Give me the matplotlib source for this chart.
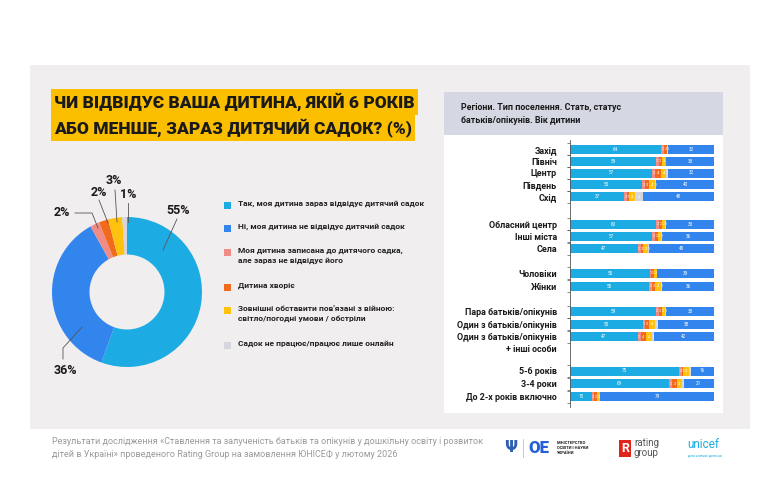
import numpy as np
import matplotlib.pyplot as plt
from matplotlib.patches import Rectangle

plt.rcParams['font.family'] = ['Roboto', 'DejaVu Sans']

# --- data -------------------------------------------------------------
answers = ["Так, моя дитина зараз відвідує дитячий садок",
           "Ні, моя дитина не відвідує дитячий садок",
           "Моя дитина записана до дитячого садка,\nале зараз не відвідує його",
           "Дитина хворіє",
           "Зовнішні обставити пов'язані з війною:\nсвітло/погодні умови / обстріли",
           "Садок не працює/працює лише онлайн"]
total_share = [55, 36, 2, 2, 3, 1]

rows = ["Захід", "Північ", "Центр", "Південь", "Схід",
        "Обласний центр", "Інші міста", "Села",
        "Чоловіки", "Жінки",
        "Пара батьків/опікунів", "Один з батьків/опікунів", "Один з батьків/опікунів",
        "5-6 років", "3-4 роки", "До 2-х років включно"]
yes_vals = [64, 59, 57, 50, 37, 60, 57, 47, 55, 55, 59, 50, 47, 75, 69, 15]
enrolled = [2, 2, 2, 2, 2, 2, 2, 2, 1, 2, 2, 1, 2, 2, 2, 2]
ill = [2, 2, 4, 3, 1, 2, 2, 2, 2, 2, 2, 3, 4, 1, 3, 2]
war = [0, 3, 4, 4, 4, 2, 2, 3, 2, 4, 2, 4, 4, 4, 4, 2]
closed = [1, 0, 1, 1, 6, 1, 1, 1, 0, 1, 1, 2, 1, 1, 1, 0]
no_vals = [32, 33, 32, 40, 48, 33, 36, 45, 39, 36, 33, 38, 42, 16, 21, 79]

title_lines = ["ЧИ ВІДВІДУЄ ВАША ДИТИНА, ЯКІЙ 6 РОКІВ",
               "АБО МЕНШЕ, ЗАРАЗ ДИТЯЧИЙ САДОК? (%)"]
panel_title = "Регіони. Тип поселення. Стать, статус\nбатьків/опікунів. Вік дитини"
footer = ("Результати дослідження «Ставлення та залученість батьків та опікунів у дошкільну освіту і розвиток\n"
          "дітей в Україні» проведеного Rating Group на замовлення ЮНІСЕФ у лютому 2026")

# --- style ------------------------------------------------------------
c_yes = "#1cabe2"
c_no = "#3385ee"
c_enr = "#f08c86"
c_ill = "#f26a1b"
c_war = "#ffc20e"
c_cls = "#d4d5dd"
seg_colors = [c_yes, c_no, c_enr, c_ill, c_war, c_cls]
W, H = 770, 495


def fx(x):
    return x / W


def fy(y):
    return 1 - y / H


fig = plt.figure(figsize=(7.7, 4.95), dpi=100)
fig.patch.set_facecolor("white")

# background layer
bg = fig.add_axes([0, 0, 1, 1], zorder=0)
bg.set_xlim(0, W)
bg.set_ylim(H, 0)
bg.axis("off")
bg.add_patch(Rectangle((30, 65), 720, 364, color="#f0eeee", lw=0))
bg.add_patch(Rectangle((444, 92), 279, 321, color="white", lw=0))
bg.add_patch(Rectangle((444, 92), 279, 43, color="#d5d8e3", lw=0))

# title with yellow highlight
for i, line in enumerate(title_lines):
    bg.text(54, 102 + i * 26, line, fontsize=12.5, fontweight="heavy", color="#1a1a1a",
            va="center", ha="left",
            bbox=dict(facecolor="#fcbf00", edgecolor="none", boxstyle="square,pad=0.2"))

bg.text(461, 114, panel_title, fontsize=6.4, fontweight="bold", color="#1a1a1a",
        va="center", ha="left", linespacing=1.55)

bg.text(52, 448, footer, fontsize=6.5, color="#9a9a9a", va="center", ha="left", linespacing=1.6)

# --- donut ------------------------------------------------------------
cx, cy, R = 127, 292, 75
dax = fig.add_axes([fx(cx - 80), fy(cy + 80), 160 / W, 160 / H], zorder=1)
dax.pie(total_share, colors=seg_colors, startangle=90, counterclock=False,
        wedgeprops=dict(width=0.5, edgecolor="none"))
dax.set_xlim(-80 / R, 80 / R)
dax.set_ylim(-80 / R, 80 / R)
dax.set_aspect("equal")
dax.axis("off")

# --- stacked bars -----------------------------------------------------
ypos = [149.3, 161.2, 173.0, 184.9, 196.7,
        224.0, 236.3, 248.5,
        273.3, 286.0,
        311.5, 324.0, 336.5,
        371.0, 383.7, 396.5]
bax = fig.add_axes([fx(570), fy(407), 144 / W, 267 / H], zorder=1)
bax.set_ylim(407, 140)
bax.set_xlim(0, 100)
bax.patch.set_alpha(0)

series = [yes_vals, enrolled, ill, war, closed, no_vals]
bar_colors = [c_yes, c_enr, c_ill, c_war, c_cls, c_no]
data = np.array(series, dtype=float)
totals = data.sum(axis=0)
widths = data / totals * 100
left = np.zeros(len(rows))
for k in range(len(series)):
    bax.barh(ypos, widths[k], left=left, height=9, color=bar_colors[k], edgecolor="none")
    for j, v in enumerate(series[k]):
        if v > 0:
            bax.text(left[j] + widths[k][j] / 2, ypos[j], str(v), ha="center", va="center",
                     fontsize=3.3 if v > 9 else 2.8, color="white")
    left += widths[k]

for s in ["top", "right", "bottom"]:
    bax.spines[s].set_visible(False)
bax.spines["left"].set_color("#555555")
bax.spines["left"].set_linewidth(0.6)
bax.set_xticks([])
bax.set_yticks(ypos, rows)
bax.tick_params(axis="y", length=0, pad=9.5, labelsize=6.4, labelcolor="#1a1a1a")
for t in bax.get_yticklabels():
    t.set_fontweight("bold")
bounds = sorted(set([round(y - 6, 1) for y in ypos] + [round(y + 6, 1) for y in ypos]))
bax.set_yticks(bounds, minor=True)
bax.tick_params(axis="y", which="minor", length=2, width=0.5, color="#555555")
bax.text(-13 * 100 / 144, ypos[12] + 12.5, "+ інші особи", ha="right", va="center",
         fontsize=6.4, fontweight="bold", color="#1a1a1a", clip_on=False)

# --- overlay: labels, leaders, legend, logos --------------------------
top = fig.add_axes([0, 0, 1, 1], zorder=2)
top.set_xlim(0, W)
top.set_ylim(H, 0)
top.axis("off")

pct_pos = [(178, 210), (65, 370), (62, 213), (99, 193), (114, 180), (128, 195)]
leaders = [[(163, 250), (177, 219)],
           [(82, 327), (63, 348), (63, 359)],
           [(75, 213), (92, 213), (98, 228)],
           [(99, 200), (108, 223)],
           [(115, 190), (117, 222)],
           [(128, 203), (128, 222)]]
for v, (x, y), ln in zip(total_share, pct_pos, leaders):
    xs, ys = zip(*ln)
    top.plot(xs, ys, color="#555555", lw=0.6)
    top.text(x, y, f"{v}%", ha="center", va="center", fontsize=9, fontweight="bold",
             color="#1a1a1a")

leg_y = [205, 228, 252, 287, 310, 345]
for lab, col, y in zip(answers, seg_colors, leg_y):
    top.add_patch(Rectangle((224, y - 3.5), 7, 7, color=col, lw=0))
    top.text(238, y - 5, lab, ha="left", va="top", fontsize=6.0, fontweight="bold",
             color="#222222", linespacing=1.5)

# logos (approximate, as text)
top.text(511, 448, "Ψ", ha="center", va="center", fontsize=11, color="#2e5fb0",
         family="DejaVu Sans", fontweight="bold")
top.plot([523, 523], [439, 457], color="#c0c0c0", lw=0.6)
top.text(528, 448, "ОЕ", ha="left", va="center", fontsize=12, color="#2560d8", fontweight="heavy")
top.text(557, 448, "МІНІСТЕРСТВО\nОСВІТИ І НАУКИ\nУКРАЇНИ", ha="left", va="center",
         fontsize=3, color="#1a1a1a", fontweight="bold", linespacing=1.3)
top.add_patch(Rectangle((619, 440), 12, 17, color="#e2231a", lw=0))
top.text(625, 449, "R", ha="center", va="center", fontsize=9, color="white", fontweight="bold")
top.text(634, 448, "rating\ngroup", ha="left", va="center", fontsize=7, color="#555555",
         linespacing=0.9)
top.text(687, 444, "unicef", ha="left", va="center", fontsize=8.5, color="#1cabe2")
top.text(688, 455, "для кожної дитини", ha="left", va="center", fontsize=2.8, color="#1cabe2")

fig.savefig("out.png", dpi=100, facecolor="white")
